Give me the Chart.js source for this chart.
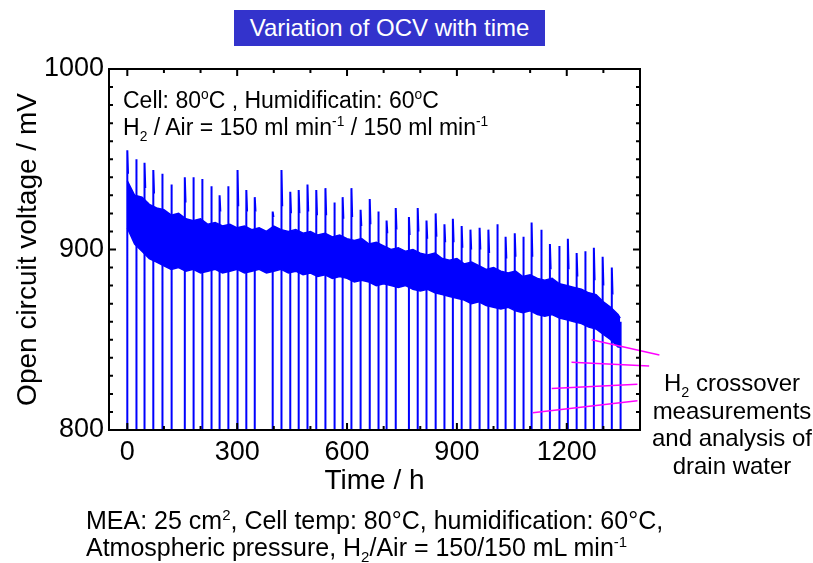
<!DOCTYPE html>
<html>
<head>
<meta charset="utf-8">
<script src="https://cdn.jsdelivr.net/npm/chart.js@4.4.1/dist/chart.umd.min.js"></script>
<style>
  html, body { margin: 0; padding: 0; background: #fff; }
  body { width: 813px; height: 563px; position: relative; overflow: hidden; font-family: 'Liberation Sans', Arial, sans-serif; color: #000; }
  #ocvChart { position: absolute; left: 0; top: 0; }
  .title { position: absolute; left: 234px; top: 10px; width: 311px; height: 36px; background: #3333cc; color: #fff; font-size: 24px; line-height: 36px; text-align: center; }
  .inner { position: absolute; left: 123px; font-size: 23px; line-height: 26px; white-space: nowrap; }
  .note { position: absolute; left: 650px; top: 369px; width: 164px; font-size: 24px; line-height: 27.7px; text-align: center; }
  .caption { position: absolute; left: 86px; top: 507px; font-size: 25px; line-height: 27px; white-space: nowrap; }
  sup, sub { font-size: 0.6em; line-height: 0; }
</style>
</head>
<body>
<canvas id="ocvChart" width="813" height="563"></canvas>
<div class="title">Variation of OCV with time</div>
<div class="inner" style="top:87px">Cell: 80<sup>o</sup>C , Humidificatin: 60<sup>o</sup>C</div>
<div class="inner" style="top:114px">H<sub>2</sub> / Air = 150 ml min<sup>-1</sup> / 150 ml min<sup>-1</sup></div>
<div class="note">H<sub>2</sub> crossover<br>measurements<br>and analysis of<br>drain water</div>
<div class="caption">MEA: 25 cm<sup>2</sup>, Cell temp: 80&deg;C, humidification: 60&deg;C,<br>Atmospheric pressure, H<sub>2</sub>/Air = 150/150 mL min<sup>-1</sup></div>
<script>
// axis ticks
const xTicks = [0, 300, 600, 900, 1200];
const xMinorTicks = [0, 100, 200, 300, 400, 500, 600, 700, 800, 900, 1000, 1100, 1200, 1300];
const yTicks = [800, 900, 1000];
const yMinorTicks = [810, 820, 830, 840, 850, 860, 870, 880, 890, 900, 910, 920, 930, 940, 950, 960, 970, 980, 990];

// times (h) of the daily OCV interruptions
const dropTimes = [0, 24, 47, 71, 95, 120, 157, 180, 204, 229, 252, 275, 301, 325, 348,
    397, 421, 445, 468, 492, 516, 541, 565, 588, 612, 637, 662, 685, 708, 733,
    769, 793, 817, 842, 866, 889, 913, 937, 962, 986, 1010, 1033, 1058, 1081, 1104,
    1130, 1154, 1179, 1203, 1227, 1250, 1274, 1298, 1323, 1347];
// OCV peak after each restart (mV)
const spikePeaks = [955, 950, 948, 944, 942, 936, 940, 940, 939, 935, 930, 935, 944, 933, 929,
    921, 944, 932, 933, 936, 933, 934, 926, 929, 934, 922, 928, 921, 916, 923,
    918, 923, 916, 920, 914, 917, 913, 911, 912, 911, 914, 907, 909, 907, 915,
    911, 903, 902, 906, 898, 899, 901, 896, 890, 860];
// OCV a couple of hours after the peak (mV)
const spikeTails = [942, 936, 934, 931, 929, 926, 926, 925, 925, 922, 921, 922, 924, 921, 921,
    918, 924, 920, 920, 921, 919, 919, 916, 917, 918, 913, 914, 911, 909, 911,
    908, 910, 906, 907, 904, 904, 901, 900, 900, 898, 899, 895, 896, 893, 896,
    893, 889, 888, 889, 885, 885, 883, 880, 875, null];

// noise band of the OCV trace (mV)
const bandTimes = [0, 20, 40, 60, 80, 100, 120, 140, 160, 180, 200, 220, 240, 260, 280,
    300, 320, 340, 360, 380, 400, 420, 440, 460, 480, 500, 520, 540, 560, 580,
    600, 620, 640, 660, 680, 700, 720, 740, 760, 780, 800, 820, 840, 860, 880,
    900, 920, 940, 960, 980, 1000, 1020, 1040, 1060, 1080, 1100, 1120, 1140, 1160, 1180,
    1200, 1220, 1240, 1260, 1280, 1300, 1320, 1340, 1346];
const bandUpper = [938, 930, 929, 925, 923, 922, 919, 920, 917, 916, 917, 914, 915, 913, 914,
    912, 913, 911, 912, 910, 913, 911, 910, 911, 909, 910, 908, 909, 907, 908,
    906, 905, 906, 903, 904, 902, 900, 901, 899, 900, 898, 897, 898, 895, 894,
    895, 892, 893, 891, 889, 890, 888, 887, 888, 885, 886, 884, 883, 884, 881,
    880, 879, 878, 876, 875, 871, 868, 864, 862];
const bandLower = [912, 903, 899, 895, 893, 891, 889, 890, 888, 889, 887, 888, 889, 887, 888,
    889, 887, 888, 889, 887, 888, 889, 887, 888, 886, 887, 885, 886, 884, 885,
    884, 882, 883, 882, 880, 881, 880, 879, 880, 878, 877, 878, 876, 875, 874,
    873, 872, 870, 871, 869, 868, 867, 868, 866, 865, 866, 864, 863, 864, 862,
    861, 860, 859, 857, 856, 853, 850, 846, 846];

// leader lines to the crossover note: [t1, v1, t2, v2]
const leaderLines = [
    [1268, 850, 1453, 841.5],
    [1213, 837.5, 1425, 835.5],
    [1159, 823, 1393, 825.3],
    [1107, 809.5, 1393, 816.2]
];

const FONT = "'Liberation Sans', Arial, sans-serif";
const BLUE = '#0000ff';

// spikes: drop below the axis, jump to peak, decay
const spikeData = [];
dropTimes.forEach((t, i) => {
    spikeData.push({ x: t, y: 790 }, { x: t, y: spikePeaks[i] });
    if (spikeTails[i] !== null) spikeData.push({ x: t + 2, y: spikeTails[i] });
    spikeData.push({ x: t + 2, y: null });
});

const leaderSets = leaderLines.map(l => ({
    data: [{ x: l[0], y: l[1] }, { x: l[2], y: l[3] }],
    borderColor: '#ff00ff',
    borderWidth: 1.5,
    clip: false
}));

// inward ticks and the box around the plot
const framePlugin = {
    id: 'frame',
    afterDatasetsDraw(chart) {
        const { ctx, chartArea: a, scales: { x, y } } = chart;
        ctx.save();
        ctx.strokeStyle = '#000';
        ctx.lineWidth = 2;
        ctx.beginPath();
        xMinorTicks.forEach(v => {
            const px = x.getPixelForValue(v);
            const len = xTicks.includes(v) ? 7 : 4;
            ctx.moveTo(px, a.bottom); ctx.lineTo(px, a.bottom - len);
            ctx.moveTo(px, a.top); ctx.lineTo(px, a.top + len);
        });
        yMinorTicks.forEach(v => {
            const py = y.getPixelForValue(v);
            const len = yTicks.includes(v) ? 7 : 4;
            ctx.moveTo(a.left, py); ctx.lineTo(a.left + len, py);
            ctx.moveTo(a.right, py); ctx.lineTo(a.right - len, py);
        });
        ctx.stroke();
        ctx.strokeRect(a.left, a.top, a.right - a.left, a.bottom - a.top);
        ctx.restore();
    }
};

new Chart(document.getElementById('ocvChart'), {
    type: 'line',
    data: {
        datasets: [
            ...leaderSets,
            { data: spikeData, borderColor: BLUE, borderWidth: 2, spanGaps: false },
            { data: bandTimes.map((t, i) => ({ x: t, y: bandLower[i] })), borderColor: BLUE, borderWidth: 1.5 },
            { data: bandTimes.map((t, i) => ({ x: t, y: bandUpper[i] })), borderColor: BLUE, borderWidth: 1.5,
              fill: '-1', backgroundColor: BLUE }
        ]
    },
    options: {
        responsive: false,
        animation: false,
        events: [],
        layout: { padding: { left: 0, top: 69, right: 173, bottom: 0 } },
        elements: { point: { radius: 0 }, line: { tension: 0 } },
        plugins: { legend: { display: false }, tooltip: { enabled: false } },
        scales: {
            x: {
                type: 'linear', min: -50, max: 1400,
                afterFit: s => { s.height = 133; },
                afterBuildTicks: s => { s.ticks = xTicks.map(v => ({ value: v })); },
                grid: { display: false, drawTicks: false },
                border: { display: false },
                ticks: { font: { size: 27, family: FONT }, color: '#000', padding: 6, maxRotation: 0,
                         callback: v => String(v) },
                title: { display: true, text: 'Time / h', color: '#000',
                         font: { size: 28, family: FONT }, padding: { top: 0, bottom: 65 } }
            },
            y: {
                type: 'linear', min: 800, max: 1000,
                afterFit: s => { s.width = 109; },
                afterBuildTicks: s => { s.ticks = yTicks.map(v => ({ value: v })); },
                grid: { display: false, drawTicks: false },
                border: { display: false },
                ticks: { font: { size: 27, family: FONT }, color: '#000', padding: 5,
                         callback: v => String(v) },
                title: { display: true, text: 'Open circuit voltage / mV', color: '#000',
                         font: { size: 28, family: FONT }, padding: { top: 11, bottom: 0 } }
            }
        }
    },
    plugins: [framePlugin]
});
</script>
</body>
</html>
